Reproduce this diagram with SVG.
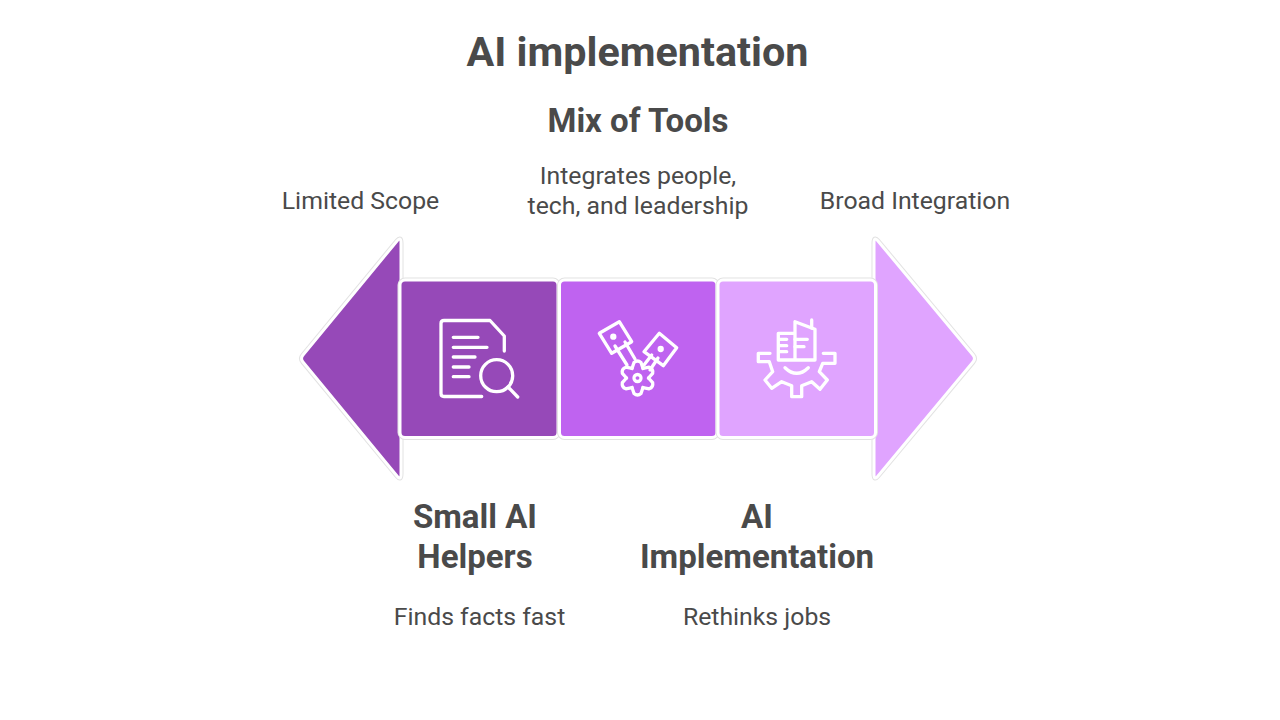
<svg xmlns="http://www.w3.org/2000/svg" xmlns:xlink="http://www.w3.org/1999/xlink" width="1280" height="720" viewBox="0 0 1280 720">
<style>
text{font-family:Roboto,"Liberation Sans",sans-serif;fill:#4a4a4a;text-anchor:middle}
.title{font-size:41.3px;font-weight:700}
.head{font-size:33px;font-weight:700}
.desc{font-size:24.8px;font-weight:400}
.halo{stroke:#e2e2e2;stroke-width:5;stroke-linejoin:round}
.edge{stroke:#fff;stroke-width:3;stroke-linejoin:round}
.ic{fill:none;stroke:#fff;stroke-width:3.3;stroke-linecap:round;stroke-linejoin:round}
</style>
<defs>
<path id="tooth" d="M-5.5,-9.5L-3.5,-15.5Q0,-18.5 3.5,-15.5L5.5,-9.5"/>
<path id="tri-l" d="M401,243Q401,236 397,241L303,355Q300,358.5 303,362L397,476Q401,481 401,474Z"/>
<path id="tri-r" d="M874,243Q874,236 878,241L973,355Q976,358.5 973,362L878,476Q874,481 874,474Z"/>
</defs>
<rect width="1280" height="720" fill="#fff"/>
<text class="title" x="637.5" y="66">AI implementation</text>
<g id="arrow-left">
<use xlink:href="#tri-l" href="#tri-l" class="halo" fill="#9649b8"/>
<use xlink:href="#tri-l" href="#tri-l" class="edge" fill="#9649b8"/>
<text class="desc" x="360.5" y="208.5">Limited Scope</text>
</g>
<g id="arrow-right">
<use xlink:href="#tri-r" href="#tri-r" class="halo" fill="#e0a4ff"/>
<use xlink:href="#tri-r" href="#tri-r" class="edge" fill="#e0a4ff"/>
<text class="desc" x="915" y="208.5">Broad Integration</text>
</g>
<g id="node-small-ai-helpers">
<rect class="halo" x="400" y="280" width="158" height="157.5" rx="5" fill="#9649b8"/>
<rect class="edge" x="400" y="280" width="158" height="157.5" rx="5" fill="#9649b8"/>
<g class="ic">
<path d="M481.7,396.5H444Q441,396.5 441,393.5V323.5Q441,320.5 444,320.5H490L504.3,336V351"/>
<path d="M453.3,337.3H478M453.3,347.3H487M453.3,357H475M453.3,367H469M453.3,376.7H469"/>
<circle cx="496.7" cy="375.7" r="16"/>
<path d="M508,387L517.7,397"/>
</g>
<text class="head" x="475" y="528">Small AI</text>
<text class="head" x="475" y="568">Helpers</text>
<text class="desc" x="479.5" y="624.5">Finds facts fast</text>
</g>
<g id="node-mix-of-tools">
<rect class="halo" x="559.5" y="280" width="157.5" height="157.5" rx="5" fill="#bf63f0"/>
<rect class="edge" x="559.5" y="280" width="157.5" height="157.5" rx="5" fill="#bf63f0"/>
<g class="ic">
<path d="M599.3,333.3L619.3,321.7L631.7,341.7L611.7,353.3Z"/>
<circle cx="613.3" cy="336.7" r="1.5"/>
<path d="M615,346L627,365M625,342L635,359"/>
<path d="M659.3,333.3L676.7,347.7L663.3,365.7L644,351.7Z"/>
<circle cx="660.7" cy="349" r="1.5"/>
<path d="M644,365L651.7,355M650,370L658,358"/>
<g transform="translate(637.5 378)">
<use xlink:href="#tooth" href="#tooth"/>
<use xlink:href="#tooth" href="#tooth" transform="rotate(60)"/>
<use xlink:href="#tooth" href="#tooth" transform="rotate(120)"/>
<use xlink:href="#tooth" href="#tooth" transform="rotate(180)"/>
<use xlink:href="#tooth" href="#tooth" transform="rotate(240)"/>
<use xlink:href="#tooth" href="#tooth" transform="rotate(300)"/>
<circle r="3.5"/>
</g>
</g>
<text class="head" x="638" y="132">Mix of Tools</text>
<text class="desc" x="638" y="183.5">Integrates people,</text>
<text class="desc" x="638" y="213.5">tech, and leadership</text>
</g>
<g id="node-ai-implementation">
<rect class="halo" x="718" y="280" width="157.5" height="157.5" rx="5" fill="#e0a4ff"/>
<rect class="edge" x="718" y="280" width="157.5" height="157.5" rx="5" fill="#e0a4ff"/>
<g class="ic">
<path d="M770,353.3H758.3V361.7H769.3L772.7,371.7L765,380L771.7,388.3L781.7,381.7L791.7,385.7V396.7H801.7V385.7L811.7,381.7L820,389.3L827.3,380L819.3,371.7L822.7,363.3H835V353.3H823.3"/>
<path d="M785,367.7Q796.7,379 808.3,367.7"/>
<path d="M795,333.3H778.3V360H815V329.3L795,321.7V360"/>
<path d="M811.7,320V328"/>
<path d="M779,339.3H786.7M779,345.7H786.7M779,351.7H786.7M795,339.3H807.3M795,346.7H804"/>
</g>
<text class="head" x="757" y="528">AI</text>
<text class="head" x="757" y="568">Implementation</text>
<text class="desc" x="757" y="624.5">Rethinks jobs</text>
</g>
</svg>
